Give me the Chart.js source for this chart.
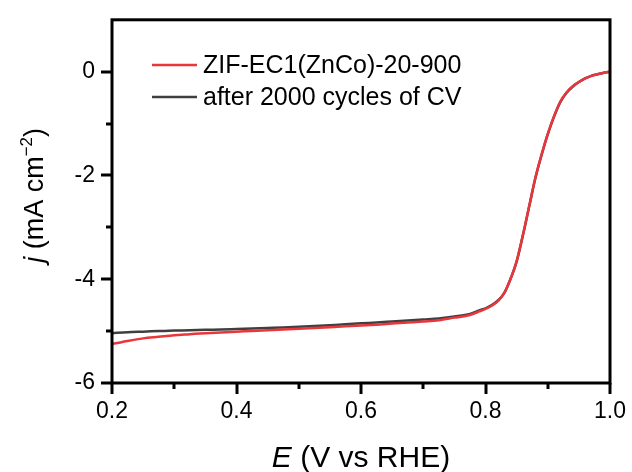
<!DOCTYPE html>
<html>
<head>
<meta charset="utf-8">
<script src="https://cdn.jsdelivr.net/npm/chart.js@4/dist/chart.umd.min.js"></script>
<style>
  html, body { margin: 0; padding: 0; background: #fff; }
  #lsv { display: block; }
</style>
</head>
<body>
<canvas id="lsv" width="632" height="472"></canvas>
<script>
const FONT = "'Liberation Sans', Arial, sans-serif";

// E (V vs RHE)
const potential = [
    0.200, 0.225, 0.250, 0.275, 0.300, 0.325, 0.350, 0.375, 0.400, 0.425,
    0.450, 0.475, 0.500, 0.525, 0.550, 0.575, 0.600, 0.625, 0.650, 0.675,
    0.700, 0.725, 0.750, 0.775, 0.790, 0.800, 0.810, 0.820, 0.830, 0.840,
    0.850, 0.860, 0.870, 0.880, 0.890, 0.900, 0.910, 0.920, 0.930, 0.940,
    0.950, 0.960, 0.970, 0.980, 0.990, 1.000
];

// j (mA cm-2), fresh catalyst
const currentFresh = [
    -5.25, -5.19, -5.14, -5.11, -5.08, -5.06, -5.04, -5.025, -5.01, -5.00,
    -4.985, -4.97, -4.955, -4.94, -4.925, -4.905, -4.89, -4.875, -4.855, -4.835,
    -4.815, -4.79, -4.74, -4.69, -4.62, -4.57, -4.51, -4.42, -4.27, -4.00,
    -3.65, -3.15, -2.60, -2.05, -1.60, -1.20, -0.86, -0.58, -0.40, -0.28,
    -0.20, -0.13, -0.08, -0.05, -0.02, 0.00
];

// j (mA cm-2), after 2000 CV cycles
const currentAfter = [
    -5.04, -5.02, -5.01, -5.00, -4.99, -4.985, -4.975, -4.97, -4.96, -4.95,
    -4.94, -4.93, -4.915, -4.90, -4.885, -4.87, -4.85, -4.835, -4.815, -4.795,
    -4.775, -4.755, -4.72, -4.67, -4.60, -4.56, -4.50, -4.41, -4.27, -4.00,
    -3.66, -3.16, -2.61, -2.06, -1.61, -1.21, -0.87, -0.59, -0.41, -0.29,
    -0.20, -0.13, -0.08, -0.05, -0.02, 0.00
];

const seriesNames = ['ZIF-EC1(ZnCo)-20-900', 'after 2000 cycles of CV'];
const seriesColors = ['#e8363c', '#3f3f3f'];

const xRange = [0.2, 1.0];
const yRange = [-6, 1];

function toPoints(xs, ys) {
    return xs.map((x, i) => ({ x: x, y: ys[i] }));
}

// frame + major/minor ticks (outward), like the origin style
const frameTicks = {
    id: 'frameTicks',
    afterDraw(chart) {
        const ctx = chart.ctx;
        const area = chart.chartArea;
        const xs = chart.scales.x;
        const ys = chart.scales.y;
        ctx.save();
        ctx.strokeStyle = '#000';
        ctx.lineWidth = 3;
        xs.ticks.forEach(t => {
            const px = Math.round(xs.getPixelForValue(t.value));
            const len = t.label !== '' ? 11 : 6;
            ctx.beginPath();
            ctx.moveTo(px, area.bottom);
            ctx.lineTo(px, area.bottom + len);
            ctx.stroke();
        });
        ys.ticks.forEach(t => {
            if (t.value > 0) return;
            const py = Math.round(ys.getPixelForValue(t.value));
            const len = t.label !== '' ? 11 : 6;
            ctx.beginPath();
            ctx.moveTo(area.left, py);
            ctx.lineTo(area.left - len, py);
            ctx.stroke();
        });
        ctx.lineWidth = 3;
        ctx.strokeRect(area.left, area.top, area.right - area.left, area.bottom - area.top);
        ctx.restore();
    }
};

// axis titles with italic symbols and superscript
const axisTitles = {
    id: 'axisTitles',
    afterDraw(chart) {
        const ctx = chart.ctx;
        const area = chart.chartArea;
        ctx.save();
        ctx.fillStyle = '#000';
        ctx.textBaseline = 'alphabetic';
        ctx.textAlign = 'left';

        // x title
        const xSize = 30;
        ctx.font = 'italic ' + xSize + 'px ' + FONT;
        const wE = ctx.measureText('E').width;
        ctx.font = xSize + 'px ' + FONT;
        const wRest = ctx.measureText(' (V vs RHE)').width;
        const x0 = (area.left + area.right) / 2 - (wE + wRest) / 2;
        ctx.font = 'italic ' + xSize + 'px ' + FONT;
        ctx.fillText('E', x0, 467);
        ctx.font = xSize + 'px ' + FONT;
        ctx.fillText(' (V vs RHE)', x0 + wE, 467);

        // y title, rotated
        const size = 27;
        const fItal = 'italic ' + size + 'px ' + FONT;
        const fReg = size + 'px ' + FONT;
        const fSup = '17px ' + FONT;
        ctx.font = fItal;
        const wj = ctx.measureText('j').width;
        ctx.font = fReg;
        const wMid = ctx.measureText(' (mA cm').width;
        ctx.font = fSup;
        const wSup = ctx.measureText('\u22122').width;
        ctx.font = fReg;
        const wEnd = ctx.measureText(')').width;
        const total = wj + wMid + wSup + wEnd;
        ctx.translate(43, (area.top + area.bottom) / 2 - 6);
        ctx.rotate(-Math.PI / 2);
        let cx = -total / 2;
        ctx.font = fItal;
        ctx.fillText('j', cx, 0);
        cx += wj;
        ctx.font = fReg;
        ctx.fillText(' (mA cm', cx, 0);
        cx += wMid;
        ctx.font = fSup;
        ctx.fillText('\u22122', cx, -11);
        cx += wSup;
        ctx.font = fReg;
        ctx.fillText(')', cx, 0);
        ctx.restore();
    }
};

// legend in the upper left of the plot
const innerLegend = {
    id: 'innerLegend',
    afterDraw(chart) {
        const ctx = chart.ctx;
        ctx.save();
        ctx.font = '25px ' + FONT;
        ctx.textBaseline = 'middle';
        ctx.textAlign = 'left';
        chart.data.datasets.forEach((ds, i) => {
            const y = 65 + i * 32;
            ctx.strokeStyle = ds.borderColor;
            ctx.lineWidth = 2.5;
            ctx.beginPath();
            ctx.moveTo(152, y);
            ctx.lineTo(197, y);
            ctx.stroke();
            ctx.fillStyle = '#000';
            ctx.fillText(ds.label, 203, y + 1);
        });
        ctx.restore();
    }
};

new Chart(document.getElementById('lsv'), {
    type: 'line',
    data: {
        datasets: [
            {
                label: seriesNames[0],
                data: toPoints(potential, currentFresh),
                borderColor: seriesColors[0],
                borderWidth: 2.5,
                pointRadius: 0,
                cubicInterpolationMode: 'monotone',
                fill: false
            },
            {
                label: seriesNames[1],
                data: toPoints(potential, currentAfter),
                borderColor: seriesColors[1],
                borderWidth: 2.5,
                pointRadius: 0,
                cubicInterpolationMode: 'monotone',
                fill: false
            }
        ]
    },
    options: {
        responsive: false,
        animation: false,
        devicePixelRatio: 1,
        layout: { padding: { top: 15, right: 22, bottom: 0, left: 0 } },
        plugins: {
            legend: { display: false },
            tooltip: { enabled: false }
        },
        scales: {
            x: {
                type: 'linear',
                min: xRange[0],
                max: xRange[1],
                afterFit(scale) { scale.height = 89; },
                border: { display: false },
                grid: { display: true, drawOnChartArea: false, drawTicks: true, tickLength: 11, color: 'rgba(0,0,0,0)' },
                ticks: {
                    stepSize: 0.1,
                    autoSkip: false,
                    maxRotation: 0,
                    padding: 4,
                    color: '#000',
                    font: { family: FONT, size: 23 },
                    callback: (v) => {
                        const k = Math.round(v * 10);
                        return k % 2 === 0 ? (k / 10).toFixed(1) : '';
                    }
                }
            },
            y: {
                min: yRange[0],
                max: yRange[1],
                afterFit(scale) { scale.width = 112; },
                border: { display: false },
                grid: { display: true, drawOnChartArea: false, drawTicks: true, tickLength: 11, color: 'rgba(0,0,0,0)' },
                ticks: {
                    stepSize: 1,
                    autoSkip: false,
                    padding: 6,
                    color: '#000',
                    font: { family: FONT, size: 23 },
                    callback: (v) => {
                        const k = Math.round(v);
                        return (k % 2 === 0 && k <= 0) ? String(k) : '';
                    }
                }
            }
        }
    },
    plugins: [frameTicks, axisTitles, innerLegend]
});
</script>
</body>
</html>
